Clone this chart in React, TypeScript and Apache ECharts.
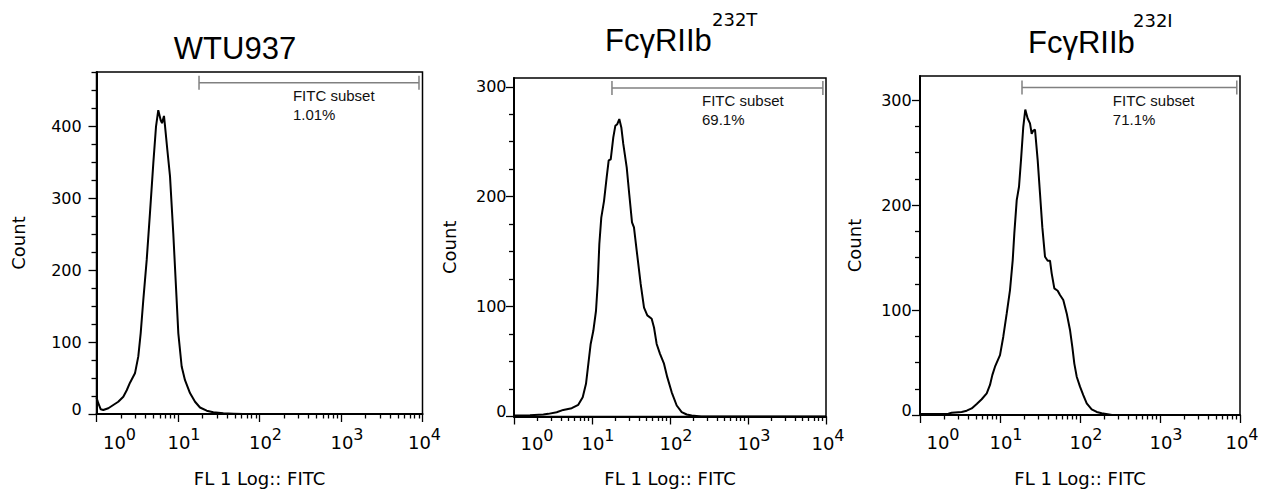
import React, { useEffect, useRef } from "react";
import * as echarts from "echarts";

// ---------- data ----------
const panelTitles = ["WTU937", "FcγRIIb", "FcγRIIb"];
const titleSuperscripts = ["", "232T", "232I"];
const gateLabel = "FITC subset";
const gatePercents = ["1.01%", "69.1%", "71.1%"];
const gateStart = [1.258, 1.256, 1.275]; // log10 FL1
const gateEnd = [3.957, 3.96, 3.96];
const gateLevel = [460, 299, 312]; // count
const gateTextX = 2.41;
const yMax = [475, 308, 323];
const yMajorTicks = [
  [0, 100, 200, 300, 400],
  [0, 100, 200, 300],
  [0, 100, 200, 300],
];
const yMinorStep = 25;
const xDecades = [0, 1, 2, 3, 4];
const xMinorMultipliers = [2, 3, 4, 5, 6, 7, 8, 9];
const xAxisTitle = "FL 1 Log:: FITC";
const yAxisTitle = "Count";

// histogram: x = log10(FL1), y = count
const wtX = [0, 0.022, 0.052, 0.083, 0.145, 0.206, 0.267, 0.329, 0.371, 0.411, 0.472, 0.513, 0.542, 0.574, 0.616, 0.656, 0.697, 0.73, 0.758, 0.788, 0.804, 0.828, 0.84, 0.869, 0.902, 0.942, 0.975, 1.004, 1.045, 1.086, 1.147, 1.209, 1.27, 1.352, 1.433, 1.556, 1.679, 1.8, 2.5, 3.2, 4.0];
const wtY = [23, 15, 6.5, 5.5, 8, 12.5, 17, 24, 33, 43.5, 56.5, 80, 112, 158, 214, 279, 348, 399, 422, 408, 404, 414, 401, 367, 330, 251, 177, 112, 66, 47, 29, 17, 9, 4.6, 2.3, 1, 0.5, 0, 0, 0, 0];

const t232X = [0, 0.205, 0.376, 0.44, 0.547, 0.632, 0.74, 0.824, 0.881, 0.923, 0.953, 0.983, 1.017, 1.051, 1.073, 1.094, 1.119, 1.154, 1.188, 1.214, 1.24, 1.273, 1.299, 1.324, 1.35, 1.376, 1.401, 1.445, 1.478, 1.513, 1.538, 1.573, 1.624, 1.667, 1.709, 1.765, 1.795, 1.829, 1.872, 1.923, 1.965, 2.022, 2.086, 2.15, 2.214, 2.278, 2.4, 3.2, 4.0];
const t232Y = [1, 1.2, 1.8, 2.4, 3.9, 6, 7.6, 10.6, 17.6, 29.7, 47.9, 66, 78, 96, 120.6, 157, 181, 196, 217.5, 233, 234, 254, 264.5, 266, 270.6, 263, 248, 226.7, 202, 176.7, 172, 151, 120.6, 99, 92, 89, 81, 66, 57, 48, 35.8, 22, 10, 4, 1.8, 1, 0, 0, 0];

const i232X = [0, 0.354, 0.396, 0.521, 0.584, 0.646, 0.709, 0.771, 0.834, 0.875, 0.904, 0.9375, 1.0, 1.041, 1.084, 1.125, 1.159, 1.179, 1.209, 1.2375, 1.2625, 1.291, 1.316, 1.346, 1.375, 1.396, 1.416, 1.4375, 1.471, 1.5, 1.529, 1.5625, 1.596, 1.625, 1.646, 1.679, 1.721, 1.75, 1.791, 1.834, 1.875, 1.904, 1.929, 1.959, 2.0, 2.041, 2.084, 2.146, 2.209, 2.271, 2.4, 3.2, 4.0];
const i232Y = [1, 1.3, 2.2, 2.9, 4.1, 6.3, 10.5, 15, 20.6, 28.6, 38, 46, 57, 74.6, 96.8, 119, 147.6, 173, 204.8, 217.5, 242.9, 274.6, 291, 282.5, 277.8, 268, 271, 272, 242.9, 211, 179, 150.8, 147, 147, 135, 120.6, 118.4, 114.3, 109.5, 96.8, 81, 65, 49, 36.5, 27, 19, 11, 5.4, 2.9, 1.6, 0, 0, 0];

const histX = [wtX, t232X, i232X];
const histY = [wtY, t232Y, i232Y];

// ---------- layout ----------
const grids = [
  { left: 96.5, top: 72, width: 326, height: 342 },
  { left: 514, top: 78, width: 312, height: 338.5 },
  { left: 920, top: 76, width: 320, height: 339 },
];
const yNameGap = [69, 55.5, 56.5];
const xNameGap = [55, 52.5, 54];
const xLabelMargin = [18.5, 16.5, 17];
const yLabelMargin = [14.8, 7.5, 8.3];
const titlePos = [
  { x: 235, y: 48.3, align: "center" },
  { x: 605, y: 40, align: "left" },
  { x: 1028, y: 42.2, align: "left" },
];
const supPos = [null, { x: 712, y: 19 }, { x: 1133, y: 20.5 }];

const SANS = '"Liberation Sans", Arial, Helvetica, sans-serif';
const WIDE = '"DejaVu Sans", sans-serif';

function buildOption() {
  const xAxis: any[] = [];
  const yAxis: any[] = [];
  const series: any[] = [];
  const graphic: any[] = [];

  const xMinor: number[] = [];
  for (let d = 0; d < xDecades.length - 1; d++) {
    for (const m of xMinorMultipliers) xMinor.push(xDecades[d] + Math.log10(m));
  }

  grids.forEach((g, i) => {
    const yMinor: number[] = [];
    for (let v = yMinorStep; v <= yMax[i]; v += yMinorStep) if (v % 100 !== 0) yMinor.push(v);

    xAxis.push({
      type: "value",
      gridIndex: i,
      position: "bottom",
      min: 0,
      max: 4,
      name: xAxisTitle,
      nameLocation: "middle",
      nameGap: xNameGap[i],
      nameTextStyle: { fontFamily: WIDE, fontSize: 18, color: "#000" },
      axisLine: { show: true, onZero: false, lineStyle: { color: "#000", width: 2 } },
      axisTick: { show: true, length: 8, customValues: xDecades, lineStyle: { color: "#000", width: 1.3 } },
      splitLine: { show: false },
      axisLabel: {
        show: true,
        customValues: xDecades,
        margin: xLabelMargin[i],
        color: "#000",
        formatter: (v: number) => {
          const e = Math.round(v);
          const key = e === 0 ? "f" : e === 4 ? "l" : "m";
          return `{${key}|10}{s|${e}}`;
        },
        rich: {
          f: { fontFamily: WIDE, fontSize: 18, lineHeight: 20, color: "#000", padding: [0, 0, 0, 46] },
          m: { fontFamily: WIDE, fontSize: 18, lineHeight: 20, color: "#000", padding: [0, 0, 0, 12] },
          l: { fontFamily: WIDE, fontSize: 18, lineHeight: 20, color: "#000", padding: [0, 0, 0, 4] },
          s: { fontFamily: WIDE, fontSize: 16, lineHeight: 18, color: "#000", padding: [0, 0, 16, 0] },
        },
      },
    });
    xAxis.push({
      type: "value",
      gridIndex: i,
      position: "bottom",
      min: 0,
      max: 4,
      axisLine: { show: false, onZero: false },
      axisTick: { show: true, length: 4.5, customValues: xMinor, lineStyle: { color: "#000", width: 1.3 } },
      axisLabel: { show: false },
      splitLine: { show: false },
    });

    yAxis.push({
      type: "value",
      gridIndex: i,
      position: "left",
      min: 0,
      max: yMax[i],
      name: yAxisTitle,
      nameLocation: "middle",
      nameGap: yNameGap[i],
      nameTextStyle: { fontFamily: WIDE, fontSize: 18, color: "#000" },
      axisLine: { show: true, onZero: false, lineStyle: { color: "#000", width: 2 } },
      axisTick: { show: true, length: 8, customValues: yMajorTicks[i], lineStyle: { color: "#000", width: 1.3 } },
      splitLine: { show: false },
      axisLabel: {
        show: true,
        customValues: yMajorTicks[i],
        margin: yLabelMargin[i],
        fontFamily: WIDE,
        fontSize: 16,
        color: "#000",
        formatter: (v: number) => (v === 0 ? "{z|0}" : String(v)),
        rich: { z: { fontFamily: WIDE, fontSize: 16, color: "#000", padding: [0, 0, 10, 0] } },
      },
    });
    yAxis.push({
      type: "value",
      gridIndex: i,
      position: "left",
      min: 0,
      max: yMax[i],
      axisLine: { show: false, onZero: false },
      axisTick: { show: true, length: 5, customValues: yMinor, lineStyle: { color: "#000", width: 1.3 } },
      axisLabel: { show: false },
      splitLine: { show: false },
    });

    series.push({
      type: "line",
      xAxisIndex: 2 * i,
      yAxisIndex: 2 * i,
      data: histX[i].map((x, k) => [x, histY[i][k]]),
      showSymbol: false,
      symbol: "none",
      lineStyle: { color: "#000", width: 2 },
      z: 5,
    });

    const pct = gatePercents[i];
    series.push({
      type: "custom",
      xAxisIndex: 2 * i,
      yAxisIndex: 2 * i,
      clip: false,
      data: [[gateStart[i], gateLevel[i], gateEnd[i]]],
      encode: { x: [0, 2], y: 1 },
      renderItem: (params: any, api: any) => {
        const p1 = api.coord([api.value(0), api.value(1)]);
        const p2 = api.coord([api.value(2), api.value(1)]);
        const t = api.coord([gateTextX, api.value(1)]);
        const gs = { stroke: "#808080", lineWidth: 1.5 };
        const ts = (txt: string) => ({ text: txt, fill: "#111", font: `15px ${SANS}`, align: "left", verticalAlign: "middle" });
        return {
          type: "group",
          children: [
            { type: "line", shape: { x1: p1[0], y1: p1[1], x2: p2[0], y2: p2[1] }, style: gs },
            { type: "line", shape: { x1: p1[0], y1: p1[1] - 7, x2: p1[0], y2: p1[1] + 7 }, style: gs },
            { type: "line", shape: { x1: p2[0], y1: p2[1] - 7, x2: p2[0], y2: p2[1] + 7 }, style: gs },
            { type: "text", x: t[0], y: t[1] + 12.5, style: ts(gateLabel) },
            { type: "text", x: t[0], y: t[1] + 32, style: ts(pct) },
          ],
        };
      },
      z: 6,
    });

    const tp = titlePos[i];
    graphic.push({
      type: "text",
      x: tp.x,
      y: tp.y,
      style: { text: panelTitles[i], font: `31px ${SANS}`, fill: "#000", align: tp.align, verticalAlign: "middle" },
    });
    const sp = supPos[i];
    if (sp && titleSuperscripts[i]) {
      graphic.push({
        type: "text",
        x: sp.x,
        y: sp.y,
        style: { text: titleSuperscripts[i], font: `18px ${WIDE}`, fill: "#000", align: "left", verticalAlign: "middle" },
      });
    }
  });

  return {
    animation: false,
    backgroundColor: "#fff",
    grid: grids.map((g) => ({ ...g, show: true, borderColor: "#000", borderWidth: 1.5, backgroundColor: "transparent", containLabel: false })),
    xAxis,
    yAxis,
    series,
    graphic,
  };
}

export default function App() {
  const ref = useRef<HTMLDivElement>(null);
  useEffect(() => {
    if (!ref.current) return;
    const chart = echarts.init(ref.current, undefined, { renderer: "svg" });
    chart.setOption(buildOption() as any);
    return () => chart.dispose();
  }, []);
  return <div ref={ref} style={{ position: "absolute", left: 0, top: 0, width: 1265, height: 492 }} />;
}
